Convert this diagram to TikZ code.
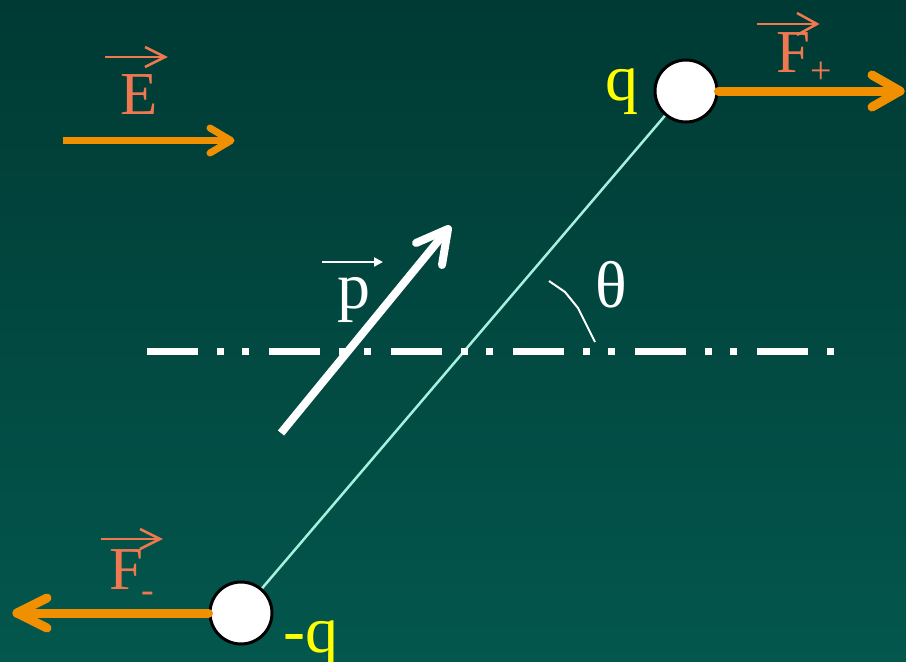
\documentclass[tikz,border=0pt]{standalone}
\usepackage{fontspec}
\setmainfont{Liberation Serif}
\usetikzlibrary{arrows.meta}
\definecolor{bgtop}{HTML}{003A34}
\definecolor{bgbot}{HTML}{03574D}
\definecolor{forcecol}{HTML}{F09000}
\definecolor{vlabel}{HTML}{F07850}
\definecolor{chgcol}{HTML}{FFFF00}
\definecolor{dipcol}{HTML}{A8F0E0}
\begin{document}
\begin{tikzpicture}[x=1pt,y=-1pt,
  charge/.style={circle,draw=black,line width=3pt,fill=white,minimum size=62pt,inner sep=0pt},
  forcearrow/.style={draw=forcecol,line width=9pt,line cap=round,line join=round},
  fieldarrow/.style={draw=forcecol,line width=7pt,line cap=round,line join=round},
  overarrow/.style={draw=vlabel,line width=2.5pt,line join=miter},
  vecletter/.style={text=vlabel,font=\fontsize{61}{61}\selectfont,inner sep=0pt,anchor=base west},
  subletter/.style={text=vlabel,font=\fontsize{38}{38}\selectfont,inner sep=0pt},
  chglabel/.style={text=chgcol,font=\fontsize{66}{66}\selectfont,inner sep=0pt,anchor=base west},
  whitelabel/.style={text=white,font=\fontsize{66}{66}\selectfont,inner sep=0pt,anchor=base west},
  dipole/.style={draw=dipcol,line width=2.5pt},
  axisline/.style={draw=white,line width=7pt,dash pattern=on 51pt off 19pt on 7pt off 18pt on 7pt off 20pt},
  momentarrow/.style={draw=white,line width=8pt,line join=round}
]
\useasboundingbox (0,0) rectangle (906,662);
\clip (0,0) rectangle (906,662);
\shade[top color=bgtop,bottom color=bgbot] (0,0) rectangle (906,662);

% dipole axis between charges
\coordinate (pc) at (686,91);
\coordinate (nc) at (241,613);
\draw[dipole] (pc) -- (nc);

% dipole moment arrow
\coordinate (pstart) at (281,433);
\coordinate (ptip) at (448,229);
\draw[momentarrow,line cap=butt] (pstart) -- (ptip);
\draw[momentarrow,line cap=round] (416,243) -- (ptip) -- (442,265);

% horizontal dash-dot line
\coordinate (hl) at (147,351);
\coordinate (hr) at (838,351);
\draw[axisline] (hl) -- (hr);

% angle mark
\draw[white,line width=2pt,line join=round] (549,281) -- (565,292) -- (578,308) -- (595,342);
\node[whitelabel] (theta) at (595,307) {θ};

% p label
\node[whitelabel] (plabel) at (337,308) {p};
\draw[white,line width=2.5pt,-{Triangle[length=9pt,width=9pt]}] (322,262) -- (383,262);

% charges
\node[charge] (pos) at (pc) {};
\node[charge] (neg) at (nc) {};
\node[chglabel] (qpos) at (605,100) {q};
\node[chglabel] (qneg) at (283,652) {-q};

% forces
\coordinate (fptip) at (900,91);
\draw[forcearrow] (pos.east) -- (fptip);
\draw[forcearrow] (872,75) -- (fptip) -- (872,107);
\coordinate (fntip) at (17,613);
\draw[forcearrow] (neg.west) -- (fntip);
\draw[forcearrow] (47,598) -- (fntip) -- (47,628);

% field arrow
\coordinate (estart) at (63,140.5);
\coordinate (etip) at (231,140.5);
\draw[fieldarrow,line cap=butt] (estart) -- (etip);
\draw[fieldarrow] (210,128) -- (etip) -- (210,153);

% vector labels
\node[vecletter] (Elabel) at (120,114) {E};
\draw[overarrow] (105,57) -- (165,57);
\draw[overarrow] (145,47) -- (165,57) -- (145,67);

\node[vecletter] (Fplabel) at (776,72) {F};
\node[subletter] (Fpsub) at (821,73) {+};
\draw[overarrow] (757,24) -- (817,24);
\draw[overarrow] (797,13) -- (817,24) -- (797,35);

\node[vecletter] (Fnlabel) at (109,589) {F};
\node[subletter] (Fnsub) at (148,597) {-};
\draw[overarrow] (101,539) -- (160,539);
\draw[overarrow] (140,529) -- (160,539) -- (140,549);
\end{tikzpicture}
\end{document}
